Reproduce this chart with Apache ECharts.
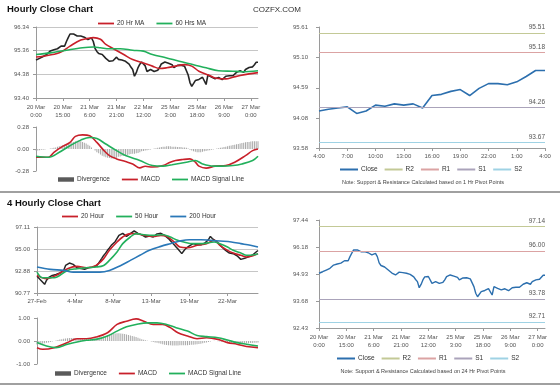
<!DOCTYPE html>
<html><head><meta charset="utf-8">
<script src="https://cdn.jsdelivr.net/npm/echarts@6/dist/echarts.min.js"></script>
<style>html,body{margin:0;padding:0;background:#fff}#c{width:560px;height:386px}</style>
</head><body><div id="c"></div>
<script>
// ---------- Hourly data (20 Mar 0:00 .. 27 Mar 4:00) ----------
const hourClose = [94.97,95.00,95.04,95.02,95.12,95.10,95.20,95.28,95.35,95.38,
 95.40,95.37,95.44,95.51,95.55,95.58,95.55,95.74,95.90,96.05,
 96.03,96.05,96.08,95.97,95.99,95.97,95.95,95.92,95.86,95.82,
 95.85,95.89,95.74,95.45,95.33,95.24,95.26,95.20,95.12,95.04,
 94.98,94.92,94.89,94.94,95.02,95.09,95.00,94.99,94.97,94.95,
 94.92,94.89,94.80,94.68,94.58,94.30,94.45,94.66,94.80,94.89,
 94.82,94.73,94.50,94.55,94.58,94.55,94.50,94.46,94.55,94.66,
 94.81,94.85,94.89,94.86,94.84,94.80,94.78,94.66,94.70,94.75,
 94.78,94.76,94.73,94.71,94.69,94.35,94.04,93.88,93.91,94.12,
 94.15,94.17,94.19,94.26,94.32,93.96,94.35,94.30,94.27,94.22,
 94.20,94.23,94.25,94.27,94.16,94.20,94.30,94.28,94.32,94.30,
 94.32,94.25,94.46,94.48,94.53,94.56,94.46,94.58,94.66,94.66,
 94.64,94.69,94.78,94.88,94.88];
const hourTicks = ['20 Mar\n0:00','20 Mar\n15:00','21 Mar\n6:00','21 Mar\n21:00','22 Mar\n12:00','25 Mar\n3:00','25 Mar\n18:00','26 Mar\n9:00','27 Mar\n0:00'];
const hourYTicks = [93.40, 94.38, 95.36, 96.34];
const ma20Idx = [0,4,13,19,25,29,32,36,39,44,49,54,60,65,69,73,78,83,87,91,97,100,106,110,114,119,124];
const ma20Val = [95.10,95.13,95.27,95.55,95.80,95.87,95.90,95.83,95.62,95.41,95.20,94.99,94.85,94.72,94.62,94.65,94.72,94.78,94.72,94.51,94.33,94.23,94.19,94.26,94.33,94.40,94.45];
const ma60Idx = [0,8,17,26,32,36,41,47,54,60,65,73,80,88,95,102,110,115,124];
const ma60Val = [95.20,95.27,95.38,95.48,95.51,95.48,95.44,95.44,95.38,95.34,95.20,95.06,94.92,94.78,94.65,94.53,94.51,94.49,94.53];
const hourMacdIdx = [0,7,10,14,19,22,26,30,34,38,41,45,50,54,58,61,65,71,75,78,82,86,89,91,95,100,106,111,117,121,124];
const hourMacdVal = [-0.105,-0.105,-0.042,0.021,0.084,0.16,0.18,0.168,0.084,-0.021,-0.084,-0.126,-0.16,-0.19,-0.24,-0.22,-0.23,-0.21,-0.168,-0.147,-0.134,-0.126,-0.168,-0.218,-0.244,-0.218,-0.21,-0.168,-0.084,-0.021,0];
const hourSigIdx = [0,7,13,19,25,30,34,39,45,50,58,65,71,76,84,89,93,99,104,110,115,121,124];
const hourSigVal = [-0.092,-0.105,-0.042,0.042,0.113,0.147,0.134,0.063,-0.021,-0.084,-0.147,-0.21,-0.218,-0.2,-0.168,-0.147,-0.19,-0.218,-0.218,-0.21,-0.19,-0.147,-0.092];
const hourDiv = [-0.02,-0.02,-0.015,-0.01,-0.01,-0.005,0,0,0.005,0.01,
 0.015,0.02,0.03,0.035,0.04,0.05,0.055,0.06,0.07,0.08,
 0.085,0.09,0.1,0.105,0.11,0.1,0.09,0.08,0.07,0.055,
 0.04,0.02,0.0,-0.02,-0.04,-0.055,-0.07,-0.085,-0.095,-0.105,
 -0.11,-0.115,-0.12,-0.12,-0.115,-0.11,-0.1,-0.095,-0.09,-0.085,
 -0.08,-0.075,-0.07,-0.065,-0.06,-0.06,-0.055,-0.05,-0.04,-0.03,
 -0.025,-0.02,-0.015,-0.01,-0.005,0,0.005,0.01,0.015,0.02,
 0.025,0.03,0.03,0.035,0.035,0.035,0.03,0.03,0.03,0.025,
 0.025,0.025,0.02,0.02,0.015,0.005,-0.01,-0.02,-0.03,-0.035,
 -0.04,-0.04,-0.04,-0.035,-0.03,-0.025,-0.02,-0.015,-0.01,-0.005,
 0,0.005,0.01,0.015,0.02,0.025,0.03,0.035,0.04,0.045,
 0.05,0.055,0.06,0.065,0.07,0.075,0.08,0.085,0.09,0.09,
 0.095,0.1,0.1,0.1,0.1];
const macdTicks1 = [-0.28, 0, 0.28];

// ---------- Last 24 hours (1 Hr pivots) ----------
const dayTicks = ['4:00','7:00','10:00','13:00','16:00','19:00','22:00','1:00','4:00'];
const dayYTicks = [93.58, 94.08, 94.59, 95.10, 95.61];
const pivotNames = ['R2','R1','S1','S2'];
const pivotColors = ['#c3c996','#dba3a3','#aaa3ba','#9fd2e4'];
const pivot1hValues = [95.51, 95.18, 94.26, 93.67];

// ---------- 4 Hourly data ----------
const fourClose = [92.37,92.2,92.0,91.82,91.6,92.0,92.24,92.3,92.46,92.4,
 92.55,92.6,92.69,92.8,92.94,93.42,93.5,93.65,93.55,93.52,
 93.35,93.2,93.15,93.12,93.1,93.05,93.15,93.2,93.18,93.25,
 93.3,93.33,93.55,93.74,94.1,94.38,94.6,94.87,95.1,95.35,
 95.5,95.7,95.83,96.3,96.47,96.5,96.35,96.21,96.4,96.47,
 96.6,96.73,96.55,96.5,96.47,96.35,96.2,96.15,96.2,96.25,
 96.2,96.15,96.3,96.45,96.53,96.5,96.47,96.3,96.15,96.0,
 95.8,95.67,95.4,95.2,95.0,94.87,94.55,94.8,95.03,95.1,
 95.3,95.45,95.51,95.45,95.4,95.35,95.4,95.5,95.55,95.6,
 95.9,96.21,96.0,95.89,95.75,95.67,95.4,95.19,95.0,94.87,
 94.8,94.61,94.7,94.55,94.5,94.35,94.23,94.0,93.9,94.1,
 94.2,94.25,94.3,94.39,94.5,94.71,94.85];
const fourTicks = ['27-Feb','4-Mar','8-Mar','13-Mar','19-Mar','22-Mar'];
const fourYTicks = [90.77, 92.88, 95.00, 97.11];
const ma20hIdx = [0,5,10,16,21,26,31,35,38,42,45,49,52,56,61,65,68,72,75,79,84,89,93,96,100,103,107,110,114,116];
const ma20hVal = [92.46,92.14,92.46,93.10,93.33,93.20,93.42,94.07,94.87,95.67,96.15,96.47,96.47,96.31,96.21,96.31,96.21,95.67,95.19,95.12,95.35,95.51,95.83,95.35,94.87,94.61,94.39,94.23,94.39,94.55];
const ma50hIdx = [0,3,9,16,21,26,31,35,38,42,45,49,52,56,61,66,70,73,77,82,87,93,96,100,103,107,110,114,116];
const ma50hVal = [92.78,92.24,92.24,92.94,93.10,93.20,93.26,93.42,93.90,94.71,95.51,96.15,96.47,96.37,96.31,96.37,96.15,95.89,95.67,95.51,95.51,95.67,95.51,95.19,94.87,94.61,94.39,94.45,94.55];
const ma200hIdx = [0,7,14,19,26,33,38,44,49,54,59,65,70,75,80,86,91,96,102,107,112,116];
const ma200hVal = [93.26,93.04,92.94,92.78,92.78,92.78,92.94,93.42,93.90,94.39,94.87,95.25,95.51,95.76,95.89,95.89,95.83,95.76,95.67,95.51,95.35,95.19];
const fourMacdIdx = [0,3,9,16,21,26,31,37,42,47,52,56,61,66,70,74,79,84,89,95,100,105,110,116];
const fourMacdVal = [-0.29,-0.36,-0.29,-0.07,0.1,0.1,0.17,0.36,0.72,0.86,0.96,0.86,0.72,0.72,0.58,0.36,0.22,0.1,0.14,0.07,-0.07,-0.14,-0.24,-0.29];
const fourSigIdx = [0,5,10,16,21,26,31,37,42,47,52,58,63,68,73,79,84,89,95,100,105,110,116];
const fourSigVal = [-0.07,-0.22,-0.29,-0.14,-0.04,0.03,0.07,0.22,0.43,0.62,0.72,0.79,0.79,0.72,0.58,0.43,0.24,0.19,0.14,0.04,-0.07,-0.14,-0.22];
const fourDiv = [-0.15,-0.14,-0.13,-0.12,-0.1,-0.08,-0.06,-0.04,-0.02,0.0,
 0.02,0.04,0.06,0.08,0.1,0.11,0.12,0.13,0.13,0.13,
 0.13,0.12,0.11,0.1,0.09,0.08,0.08,0.08,0.09,0.1,
 0.11,0.12,0.14,0.16,0.18,0.2,0.22,0.25,0.28,0.3,
 0.32,0.33,0.34,0.34,0.33,0.32,0.3,0.28,0.26,0.24,
 0.22,0.2,0.17,0.14,0.11,0.08,0.05,0.03,0.01,0.0,
 -0.02,-0.04,-0.06,-0.08,-0.1,-0.12,-0.14,-0.16,-0.17,-0.18,
 -0.19,-0.2,-0.2,-0.2,-0.2,-0.19,-0.19,-0.18,-0.18,-0.18,
 -0.17,-0.16,-0.16,-0.15,-0.14,-0.13,-0.12,-0.1,-0.08,-0.06,
 -0.04,-0.02,0.0,0.01,0.0,-0.01,-0.02,-0.03,-0.04,-0.05,
 -0.06,-0.07,-0.08,-0.09,-0.1,-0.1,-0.1,-0.1,-0.1,-0.1,
 -0.1,-0.1,-0.09,-0.09,-0.08,-0.08,-0.07];
const macdTicks2 = [-1, 0, 1];

// ---------- 24 Hr pivots chart ----------
const hrYTicks = [92.43, 93.68, 94.93, 96.18, 97.44];
const pivot24hValues = [97.14, 96.00, 93.78, 92.71];

// ---------- build ----------
const FONT = 'Liberation Sans, Arial, sans-serif';
const RED = '#c8202a', GREEN = '#22b05c', BLUE = '#2a78b8', CLOSE = '#2c6fae';
const AX = '#9a9a9a', LBL = '#555';
const idx = n => Array.from({length: n}, (_, i) => i);
const pairs = (xs, ys) => xs.map((x, i) => [x, ys[i]]);

const grids = [
  {left: 36, top: 27, width: 222, height: 71},
  {left: 36, top: 127, width: 222, height: 44},
  {left: 319, top: 27, width: 226, height: 121},
  {left: 37, top: 227, width: 221, height: 66},
  {left: 37, top: 318, width: 221, height: 46},
  {left: 319, top: 220, width: 226, height: 108}
];

function catAxis(g, n, ticks, step, showLabels, margin) {
  return {
    type: 'category', gridIndex: g, data: idx(n), boundaryGap: false, show: showLabels !== null,
    axisLine: {show: true, lineStyle: {color: AX, width: 1}},
    axisTick: {show: true, interval: step - 1, length: 3, lineStyle: {color: AX}},
    axisLabel: {show: !!showLabels, interval: step - 1, fontSize: 6, color: LBL, fontFamily: FONT, margin: margin || 4, lineHeight: 8,
      formatter: (v, i) => ticks[Math.round(i / step)] || ''},
    splitLine: {show: false}
  };
}
function valAxis(g, ticks, grid, margin) {
  return {
    type: 'value', gridIndex: g, min: ticks[0], max: ticks[ticks.length - 1],
    axisLine: {show: true, lineStyle: {color: AX, width: 1}},
    axisTick: {show: true, length: 3, customValues: ticks, lineStyle: {color: AX}},
    axisLabel: {customValues: ticks, formatter: v => v.toFixed(2), fontSize: 6, color: LBL, fontFamily: FONT, margin: margin},
    splitLine: {show: grid, lineStyle: {color: '#c6c6c6', width: 1}}
  };
}
const xAxes = [
  catAxis(0, hourClose.length, hourTicks, 15, true, 5),
  catAxis(1, hourClose.length, hourTicks, 15, null),
  catAxis(2, 25, dayTicks, 3, true, 4),
  catAxis(3, fourClose.length, fourTicks, 20, true, 4),
  catAxis(4, fourClose.length, fourTicks, 20, null),
  catAxis(5, hourClose.length, hourTicks, 15, true, 5)
];
const yAxes = [
  valAxis(0, hourYTicks, true, 7),
  valAxis(1, macdTicks1, false, 7),
  valAxis(2, dayYTicks, false, 11),
  valAxis(3, fourYTicks, true, 7),
  valAxis(4, macdTicks2, false, 7),
  valAxis(5, hrYTicks, false, 11)
];

function line(name, g, data, color, width, smooth) {
  return {name, type: 'line', xAxisIndex: g, yAxisIndex: g, data, symbol: 'none', showSymbol: false,
    smooth: smooth ? 0.35 : false, lineStyle: {color, width}, itemStyle: {color}, silent: true};
}
function bars(name, g, data) {
  return {name, type: 'bar', xAxisIndex: g, yAxisIndex: g, data, barWidth: 1, itemStyle: {color: '#a8a8a8'}, silent: true};
}
function pivots(g, values) {
  return pivotNames.map((nm, k) => ({
    name: nm, type: 'line', xAxisIndex: g, yAxisIndex: g, data: [], itemStyle: {color: pivotColors[k]}, lineStyle: {color: pivotColors[k]},
    markLine: {silent: true, symbol: ['none', 'none'], animation: false,
      lineStyle: {color: pivotColors[k], width: 1, type: 'solid'},
      label: {show: true, position: 'insideEndTop', formatter: p => Number(p.value).toFixed(2), fontSize: 6.5, color: '#555', fontFamily: FONT, distance: [0, 2]},
      data: [{yAxis: values[k]}]}
  }));
}

const series = [
  line('Close', 0, hourClose, '#262626', 1.6, false),
  line('20 Hr MA', 0, pairs(ma20Idx, ma20Val), RED, 1.6, true),
  line('60 Hrs MA', 0, pairs(ma60Idx, ma60Val), GREEN, 1.6, true),
  bars('Divergence', 1, hourDiv),
  line('MACD', 1, pairs(hourMacdIdx, hourMacdVal), RED, 1.6, true),
  line('MACD Signal Line', 1, pairs(hourSigIdx, hourSigVal), GREEN, 1.6, true),
  line('Close', 2, hourClose.slice(hourClose.length - 25), CLOSE, 1.6, false),
  ...pivots(2, pivot1hValues),
  line('Price', 3, fourClose, '#262626', 1.5, false),
  line('20 Hour', 3, pairs(ma20hIdx, ma20hVal), RED, 1.6, true),
  line('50 Hour', 3, pairs(ma50hIdx, ma50hVal), GREEN, 1.6, true),
  line('200 Hour', 3, pairs(ma200hIdx, ma200hVal), BLUE, 1.6, true),
  bars('Divergence', 4, fourDiv),
  line('MACD', 4, pairs(fourMacdIdx, fourMacdVal), RED, 1.6, true),
  line('MACD Signal Line', 4, pairs(fourSigIdx, fourSigVal), GREEN, 1.6, true),
  line('Close', 5, hourClose, CLOSE, 1.4, false),
  ...pivots(5, pivot24hValues)
];

const LINE_ICON = 'path://M0,0H18V2H0Z';
const RECT_ICON = 'path://M0,0H18V5H0Z';
function legend(left, top, items, gap, iw) {
  return {left, top, orient: 'horizontal', padding: 0, itemGap: gap, itemWidth: iw || 16, itemHeight: 6,
    selectedMode: false, symbolKeepAspect: true,
    textStyle: {fontSize: 6.5, color: '#333', fontFamily: FONT, padding: [0, 0, 0, -2]},
    data: items.map(([name, color, rect]) => ({name, icon: rect ? RECT_ICON : LINE_ICON, itemStyle: {color, borderWidth: 0}}))};
}
const legends = [
  legend(98, 20, [['20 Hr MA', RED], ['60 Hrs MA', GREEN]], 12),
  legend(58, 176, [['Divergence', '#5a5a5a', true], ['MACD', RED], ['MACD Signal Line', GREEN]], 12),
  legend(340, 166, [['Close', CLOSE], ...pivotNames.map((n, k) => [n, pivotColors[k]])], 7, 18),
  legend(62, 213, [['20 Hour', RED], ['50 Hour', GREEN], ['200 Hour', BLUE]], 12),
  legend(55, 370, [['Divergence', '#5a5a5a', true], ['MACD', RED], ['MACD Signal Line', GREEN]], 12),
  legend(337, 355, [['Close', CLOSE], ...pivotNames.map((n, k) => [n, pivotColors[k]])], 7, 18)
];

const titles = [
  {text: 'Hourly Close Chart', left: 7, top: 4, padding: 0, textStyle: {fontSize: 9.5, fontWeight: 'bold', color: '#111', fontFamily: FONT}},
  {text: 'COZFX.COM', left: 253, top: 6, padding: 0, textStyle: {fontSize: 8, fontWeight: 'normal', color: '#333', fontFamily: FONT}},
  {text: '4 Hourly Close Chart', left: 7, top: 198, padding: 0, textStyle: {fontSize: 9.5, fontWeight: 'bold', color: '#111', fontFamily: FONT}},
  {text: 'Note: Support & Resistance Calculated based on 1 Hr Pivot Points', left: 423, top: 179, padding: 0, textAlign: 'center',
    textStyle: {fontSize: 5.5, fontWeight: 'normal', color: '#444', fontFamily: FONT}},
  {text: 'Note: Support & Resistance Calculated based on 24 Hr Pivot Points', left: 423, top: 368, padding: 0, textAlign: 'center',
    textStyle: {fontSize: 5.5, fontWeight: 'normal', color: '#444', fontFamily: FONT}}
];

const chart = echarts.init(document.getElementById('c'), null, {renderer: 'canvas'});
chart.setOption({
  animation: false,
  backgroundColor: '#fff',
  textStyle: {fontFamily: FONT},
  title: titles,
  legend: legends,
  grid: grids,
  xAxis: xAxes,
  yAxis: yAxes,
  series,
  graphic: [
    {type: 'rect', shape: {x: 0, y: 191, width: 560, height: 2}, style: {fill: '#a0a0a0'}, silent: true},
    {type: 'rect', shape: {x: 0, y: 383, width: 560, height: 2}, style: {fill: '#a0a0a0'}, silent: true}
  ]
});
</script></body></html>
